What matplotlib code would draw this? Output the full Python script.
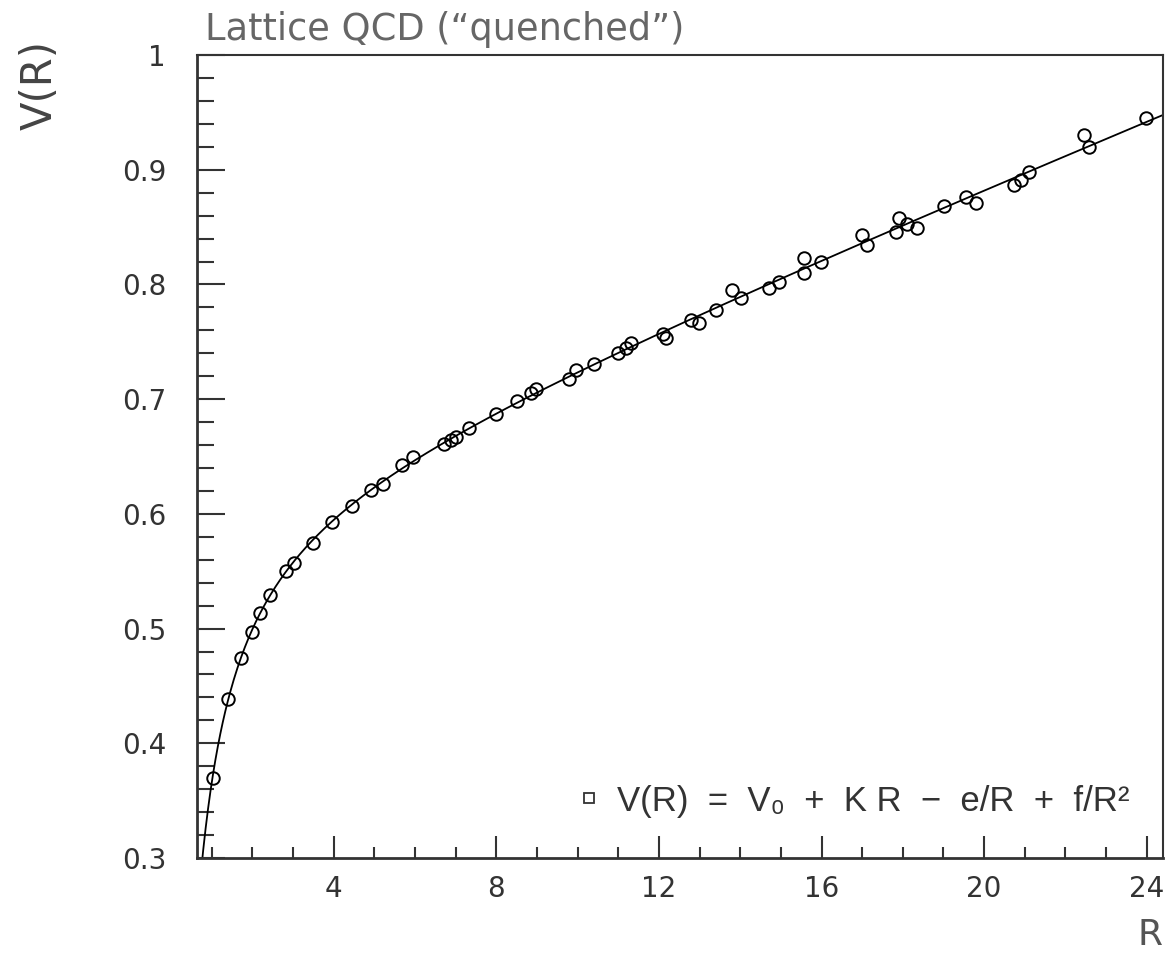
import numpy as np
import matplotlib
matplotlib.use("Agg")
import matplotlib.pyplot as plt
from matplotlib.ticker import MultipleLocator, FixedLocator
from matplotlib.lines import Line2D

# ---- data ----
R_vals = [1.02, 1.41, 1.71, 1.98, 2.18, 2.43, 2.84, 3.02, 3.48, 3.97, 4.44, 4.91,
          5.22, 5.69, 5.94, 6.71, 6.88, 7.00, 7.33, 7.99, 8.52, 8.85, 8.97, 9.80,
          9.95, 10.40, 11.00, 11.20, 11.31, 12.09, 12.17, 12.78, 12.99, 13.40,
          13.81, 14.01, 14.71, 14.96, 15.56, 15.56, 15.98, 17.00, 17.13, 17.83,
          17.91, 18.11, 18.36, 19.02, 19.55, 19.79, 20.74, 20.90, 21.11, 22.46,
          22.58, 23.98]
V_vals = [0.370, 0.439, 0.474, 0.497, 0.514, 0.529, 0.550, 0.557, 0.575, 0.593,
          0.607, 0.621, 0.626, 0.643, 0.650, 0.661, 0.664, 0.667, 0.675, 0.687,
          0.698, 0.705, 0.709, 0.718, 0.725, 0.731, 0.740, 0.745, 0.749, 0.757,
          0.753, 0.769, 0.766, 0.778, 0.795, 0.788, 0.797, 0.802, 0.823, 0.810,
          0.820, 0.843, 0.834, 0.846, 0.858, 0.853, 0.849, 0.868, 0.876, 0.871,
          0.887, 0.891, 0.898, 0.930, 0.920, 0.945]

title_text = "Lattice QCD (\u201cquenched\u201d)"
legend_text = "V(R)  =  V\u2080  +  K R  \u2212  e/R  +  f/R\u00b2"
x_major = [4, 8, 12, 16, 20, 24]
y_major = [0.3, 0.4, 0.5, 0.6, 0.7, 0.8, 0.9, 1.0]
y_labels = ["0.3", "0.4", "0.5", "0.6", "0.7", "0.8", "0.9", "1"]

# ---- fit V0 + K R - e/R + f/R^2 ----
R = np.array(R_vals)
V = np.array(V_vals)
A = np.vstack([np.ones_like(R), R, -1.0 / R, 1.0 / R**2]).T
coef, *_ = np.linalg.lstsq(A, V, rcond=None)
Rc = np.linspace(0.55, 24.6, 800)
Vc = coef[0] + coef[1] * Rc - coef[2] / Rc + coef[3] / Rc**2

fig = plt.figure(figsize=(11.65, 9.59), dpi=100)
ax = fig.add_axes([0.1688, 0.1053, 0.8295, 0.8373])

ax.plot(Rc, Vc, color="black", lw=1.3, zorder=2)
ax.plot(R, V, linestyle="none", marker="o", ms=9, mfc="none", mec="black",
        mew=1.4, zorder=3)

ax.set_xlim(0.63, 24.4)
ax.set_ylim(0.3, 1.0)

ax.xaxis.set_major_locator(FixedLocator(x_major))
ax.xaxis.set_minor_locator(MultipleLocator(1))
ax.yaxis.set_major_locator(FixedLocator(y_major))
ax.set_yticklabels(y_labels)
ax.yaxis.set_minor_locator(MultipleLocator(0.02))

ax.tick_params(axis="both", which="both", direction="in", top=False, right=False,
               colors="#333333", labelcolor="#333333")
ax.tick_params(axis="x", which="major", length=16, width=1.5, pad=12, labelsize=20)
ax.tick_params(axis="x", which="minor", length=8, width=1.5)
ax.tick_params(axis="y", which="major", length=20, width=1.5, pad=22, labelsize=20)
ax.tick_params(axis="y", which="minor", length=12, width=1.5)

for s in ["left", "bottom"]:
    ax.spines[s].set_linewidth(2.0)
    ax.spines[s].set_color("#333333")
for s in ["top", "right"]:
    ax.spines[s].set_linewidth(1.5)
    ax.spines[s].set_color("#333333")

handle = Line2D([], [], linestyle="none", marker="s", ms=7, mfc="none",
                mec="#333333", mew=1.3)
leg = ax.legend([handle], [legend_text], loc="lower right", frameon=False,
                prop={"family": "Liberation Sans", "size": 25},
                handletextpad=0.4, borderaxespad=0.3,
                bbox_to_anchor=(0.99, 0.02), labelcolor="#333333",
                handlelength=0.8)

fig.text(205 / 1165, 1 - 30 / 959, title_text, fontsize=26.5, color="#666666",
         ha="left", va="center")
fig.text(40 / 1165, 1 - 85 / 959, "V(R)", fontsize=30, color="#444444",
         rotation=90, ha="center", va="center")
fig.text(1150 / 1165, 1 - 935 / 959, "R", fontsize=26, color="#555555",
         ha="center", va="center")

fig.savefig("out.png", dpi=100)
